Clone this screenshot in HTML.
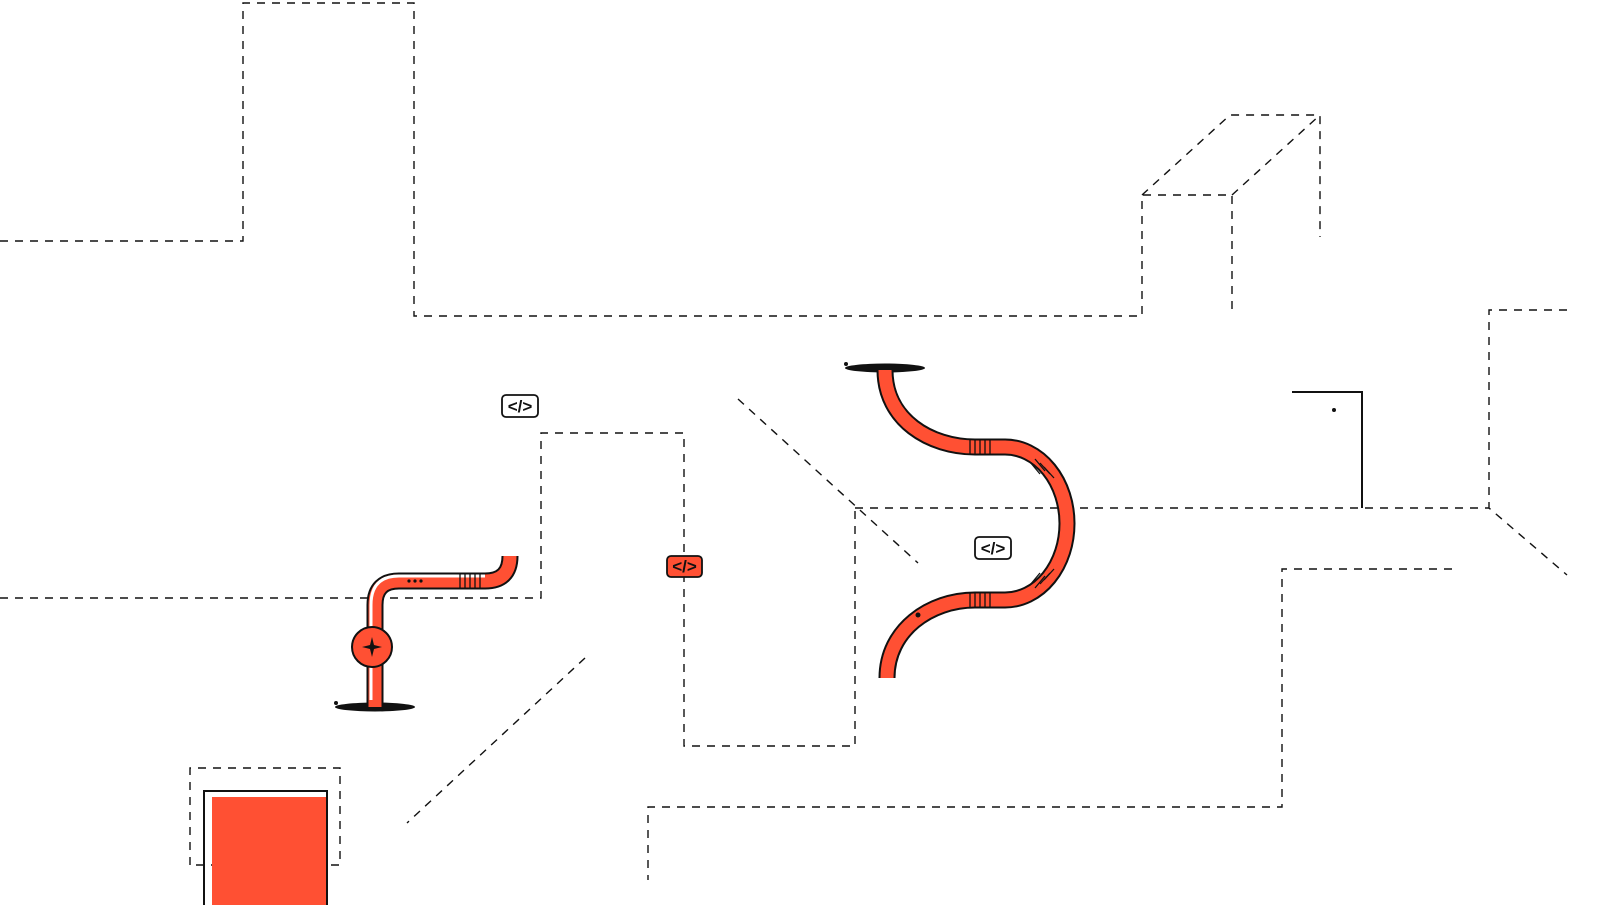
<!DOCTYPE html>
<html><head><meta charset="utf-8"><style>
html,body{margin:0;padding:0;background:#fff;width:1600px;height:905px;overflow:hidden}
</style></head><body>
<svg width="1600" height="905" viewBox="0 0 1600 905" xmlns="http://www.w3.org/2000/svg">
<g fill="none" stroke="#111" stroke-width="1.4" stroke-dasharray="8 7">
<path d="M0,241 H243 V3 H414 V316 H1142 V195 H1232 V316"/>
<path d="M1142,195 L1230,115 H1320 V237"/>
<path d="M1232,195 L1320,115"/>
<path d="M1567,310 H1489 V508 L1567,575"/>
<path d="M855,508 H1489"/>
<path d="M738,399 L918,563"/>
<path d="M0,598 H541 V433 H684 V746 H855 V508"/>
<path d="M1452,569 H1282 V807 H648 V880"/>
<path d="M585,658 L407,823"/>
<path d="M190,865 V768 H340 V865 H190"/>
</g>
<!-- red box -->
<rect x="212" y="797" width="115" height="110" fill="#ff5033"/>
<path d="M204,905 V791 H327 V905" fill="none" stroke="#111" stroke-width="2"/>
<!-- door -->
<path d="M1292,392 H1362 V508" fill="none" stroke="#111" stroke-width="2"/>
<circle cx="1334" cy="410" r="2" fill="#111"/>
<!-- left pipe -->
<ellipse cx="375" cy="707" rx="40" ry="4.5" fill="#111"/>
<circle cx="336" cy="703" r="2" fill="#111"/>
<path d="M375,707 V605 Q375,581 399,581 H485 Q510,581 510,556" fill="none" stroke="#111" stroke-width="17"/>
<path d="M375,707 V605 Q375,581 399,581 H485 Q510,581 510,556" fill="none" stroke="#ff5033" stroke-width="13"/>
<path d="M371,700 V605 Q371,576 399,576 H485" fill="none" stroke="#fff" stroke-width="3"/>
<g stroke="#111" stroke-width="1.3"><line x1="460" y1="574" x2="460" y2="588"/><line x1="465" y1="574" x2="465" y2="588"/><line x1="470" y1="574" x2="470" y2="588"/><line x1="475" y1="574" x2="475" y2="588"/><line x1="480" y1="574" x2="480" y2="588"/></g>
<circle cx="409" cy="581" r="1.6" fill="#111"/><circle cx="415" cy="581" r="1.6" fill="#111"/><circle cx="421" cy="581" r="1.6" fill="#111"/>
<circle cx="372" cy="647" r="20" fill="#ff5033" stroke="#111" stroke-width="2"/>
<path d="M372,637 L374,645 L382,647 L374,649 L372,657 L370,649 L362,647 L370,645 Z" fill="#111"/>
<!-- S pipe -->
<ellipse cx="885" cy="368" rx="40" ry="4.5" fill="#111"/>
<circle cx="846" cy="364" r="2" fill="#111"/>
<path d="M885,370 C885,420 930,447 975,447 L1005,447 A 62 76.5 0 0 1 1005,600 L975,600 C930,600 887,630 887,678" fill="none" stroke="#111" stroke-width="17"/>
<path d="M885,370 C885,420 930,447 975,447 L1005,447 A 62 76.5 0 0 1 1005,600 L975,600 C930,600 887,630 887,678" fill="none" stroke="#ff5033" stroke-width="13"/>
<g stroke="#111" stroke-width="1.3">
<line x1="970" y1="440" x2="970" y2="454"/><line x1="975" y1="440" x2="975" y2="454"/><line x1="980" y1="440" x2="980" y2="454"/><line x1="985" y1="440" x2="985" y2="454"/><line x1="990" y1="440" x2="990" y2="454"/>
<line x1="970" y1="593" x2="970" y2="607"/><line x1="975" y1="593" x2="975" y2="607"/><line x1="980" y1="593" x2="980" y2="607"/><line x1="985" y1="593" x2="985" y2="607"/><line x1="990" y1="593" x2="990" y2="607"/>
<line x1="1030" y1="462" x2="1040" y2="474"/><line x1="1035" y1="459" x2="1045" y2="471"/><line x1="1040" y1="463" x2="1050" y2="474"/><line x1="1044" y1="467" x2="1054" y2="478"/>
<line x1="1030" y1="585" x2="1040" y2="573"/><line x1="1035" y1="588" x2="1045" y2="576"/><line x1="1040" y1="584" x2="1050" y2="573"/><line x1="1044" y1="580" x2="1054" y2="569"/>
</g>
<circle cx="918" cy="615" r="2.5" fill="#111"/>
<!-- code badges -->
<g font-family="Liberation Sans, sans-serif" font-size="17" text-anchor="middle" font-weight="bold">
<rect x="502" y="395" width="36" height="22" rx="4" fill="#fff" stroke="#111" stroke-width="1.8"/>
<text x="520" y="412" fill="#111">&lt;/&gt;</text>
<rect x="667" y="556" width="35" height="21" rx="4" fill="#ff5033" stroke="#111" stroke-width="1.8"/>
<text x="684.5" y="572" fill="#111">&lt;/&gt;</text>
<rect x="975" y="537" width="36" height="22" rx="4" fill="#fff" stroke="#111" stroke-width="1.8"/>
<text x="993" y="554" fill="#111">&lt;/&gt;</text>
</g>
</svg>
</body></html>
